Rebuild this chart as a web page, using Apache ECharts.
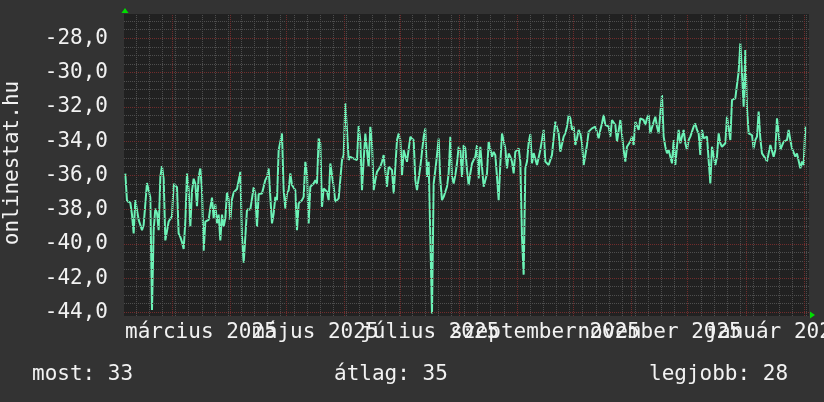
<!DOCTYPE html>
<html><head><meta charset="utf-8">
<script src="https://cdn.jsdelivr.net/npm/echarts@6/dist/echarts.min.js"></script>
<style>html,body{margin:0;padding:0;background:#333333;}#c{width:824px;height:402px;}</style>
</head><body><div id="c"></div>
<script>
// ---- data ----
const seg1 = [-35.9,-37.5,-37.5,-37.6,-38.3,-39.4,-37.45,-37.5,-38.6,-38.9,
-39.2,-38.9,-38.8,-36.45,-36.45,-37.3,-43.87,-39.2,-37.94,-38.2,
-39.2,-36.1,-35.46,-36.2,-39.8,-39.8,-38.7,-38.8,-38.4,-36.5,
-36.6,-36.7,-39.4,-39.6,-39.9,-40.3,-38.7,-35.9,-36.8,-39.0,
-36.9,-36.2,-36.5,-37.8,-36.1,-35.6,-36.9,-40.4,-38.7,-38.8,
-38.6,-37.9,-37.3,-38.5,-37.7,-38.8,-38.3,-39.8,-38.3,-39.0,
-38.5,-37.0,-37.4,-38.6,-37.4,-37.0,-36.9,-36.8,-36.3,-35.8,
-39.6,-41.1,-39.6,-38.0,-37.9,-38.0,-37.9,-36.7,-37.1,-39.0,
-37.1,-37.1];
const seg2 = [-37.06,-36.67,-36.28,-36.09,-35.6,-37.26,-38.81,-38.23,-37.26,-37.45,
-34.53,-34.43,-33.56,-36.87,-37.94,-37.06,-36.87,-35.89,-36.57,-36.67,
-36.87,-39.2,-37.64,-37.6,-37.45,-37.26,-35.21,-35.89,-38.81,-36.67,
-36.57,-36.48,-36.28,-36.48,-33.85,-34.14,-37.84,-36.77,-36.87,-36.96,
-37.45,-35.31,-35.31,-36.67,-37.55,-37.45,-37.35,-37.26,-35.11,-34.82,
-31.8,-33.36,-35.11,-34.92,-35.02,-35.02,-35.08,-35.11,-33.13,-33.95,
-36.87,-35.11,-33.56,-34.53,-35.5,-33.17,-34.14,-36.87,-36.28,-35.8,
-35.7,-35.5,-35.21,-34.82,-34.92,-36.67,-35.5,-35.5,-35.7,-37.06,
-37.16,-33.95,-33.56];
const seg3 = [-33.95,-35.99,-34.53,-34.43,-35.21,-35.21,-33.75,-33.85,-33.95,-36.28,
-36.87,-36.96,-35.5,-35.41,-33.75,-33.27,-36.09,-35.21,-35.11,-44.07,
-36.48,-35.7,-34.82,-33.85,-36.28,-37.45,-37.26,-36.96,-36.67,-35.89,
-33.75,-36.09,-36.48,-35.99,-35.31,-34.34,-34.53,-36.09,-34.24,-34.43,
-35.7,-36.57,-35.89,-35.31,-35.11,-34.92,-34.24,-36.18,-34.34,-34.34,
-36.67,-36.77,-35.89,-34.04,-33.95,-34.92,-34.63,-34.82,-36.09,-37.45,
-35.31,-33.56,-33.46,-34.43,-35.6,-34.73,-34.92,-35.21,-35.89,-34.63,
-34.53,-34.43,-35.21,-39.6,-41.8,-35.6,-35.2,-34.1,-33.6,-35.3,
-34.7,-34.8,-35.4];
const seg4 = [-35.4,-34.52,-33.94,-33.35,-35.2,-35.3,-35.4,-35.4,-34.81,-34.72,
-32.87,-32.87,-33.55,-34.62,-34.52,-33.74,-33.55,-33.16,-32.48,-32.67,
-33.35,-33.16,-34.23,-33.84,-33.35,-33.55,-34.13,-35.4,-35.5,-34.23,
-33.45,-33.45,-33.26,-33.16,-33.16,-33.06,-33.84,-33.35,-32.97,-32.48,
-33.06,-32.97,-33.16,-33.74,-32.77,-32.67,-33.06,-34.03,-34.13,-32.77,
-32.77,-34.52,-35.2,-34.33,-34.33,-34.03,-33.74,-34.23,-32.87,-32.77,
-33.35,-32.67,-32.67,-32.77,-33.06,-32.67,-32.48,-33.55,-33.65,-32.87,
-32.58,-33.16,-33.55,-32.38,-31.31,-33.74,-34.33,-34.72,-34.52,-34.43,
-35.3,-33.94,-35.4];
const seg5 = [-34.33,-33.35,-34.13,-34.03,-33.35,-34.13,-34.52,-33.94,-33.74,-33.45,
-33.16,-32.97,-33.35,-33.55,-34.81,-33.35,-33.84,-33.74,-33.74,-35.11,
-36.47,-34.33,-34.43,-35.4,-34.91,-33.55,-34.13,-34.33,-34.43,-34.13,
-32.58,-32.58,-33.94,-31.6,-31.6,-31.5,-31.41,-29.95,-28.29,-30.05,
-31.99,-28.68,-32.09,-33.55,-33.65,-33.65,-34.43,-33.94,-33.74,-32.28,
-33.84,-34.72,-34.72,-35.01,-35.2,-35.2,-34.23,-34.23,-34.91,-34.52,
-32.67,-33.55,-34.52,-34.52,-34.03,-34.03,-33.94,-33.35,-33.94,-34.43,
-34.52,-34.91,-34.72,-34.72,-35.59,-35.2,-35.4,-33.16];
const values = seg1.concat(seg2, seg3, seg4, seg5);

const firstSample = Date.UTC(2025, 1, 4, 5, 0);
const lastSample = Date.UTC(2026, 1, 1, 17, 0);
const axisStart = Date.UTC(2025, 1, 3, 12);
const axisEnd = Date.UTC(2026, 1, 3, 16);

const monthList = [[2025,2],[2025,3],[2025,4],[2025,5],[2025,6],[2025,7],[2025,8],[2025,9],[2025,10],[2025,11],[2026,0],[2026,1],[2026,2]];
const labelMonths = [[2025,2,'március 2025'],[2025,4,'május 2025'],[2025,6,'július 2025'],[2025,8,'szeptember 2025'],[2025,10,'november 2025'],[2026,0,'január 2026']];
const yTicks = [-44,-42,-40,-38,-36,-34,-32,-30,-28];
const statTexts = ['most: 33', 'átlag: 35', 'legjobb: 28'];
const yName = 'onlinestat.hu';

// ---- build ----
const DAY = 86400000;
const step = (lastSample - firstSample) / (values.length - 1);
const seriesData = values.map((v, i) => [firstSample + i * step, v]);

const monthStarts = monthList.map(([y, m]) => Date.UTC(y, m, 1));
const labelTimes = labelMonths.map(([y, m]) => (Date.UTC(y, m, 1) + Date.UTC(y, m + 1, 1)) / 2);
const labelTexts = labelMonths.map(l => l[2]);
const nearestLabel = (v) => { let best = 0; labelTimes.forEach((t, i) => { if (Math.abs(t - v) < Math.abs(labelTimes[best] - v)) best = i; }); return labelTexts[best]; };
const labelsA = labelTimes.filter((t, i) => i % 2 === 0);
const labelsB = labelTimes.filter((t, i) => i % 2 === 1);

const weekLines = [];
for (let t = Date.UTC(2025, 1, 10); t <= axisEnd; t += 7 * DAY) weekLines.push(t);
const minorY = [];
for (let v = -44; v <= -26.5; v += 0.5) if (!yTicks.includes(v)) minorY.push(v);

const FONT = 'DejaVu Sans Mono';
const GREY = '#4e4e4e', RED = '#702c2c';
const TXT = '#f2f2f2';

function xAxisWith(custom) {
  return {
    type: 'value', min: axisStart, max: axisEnd, position: 'bottom', offset: 0,
    axisLine: { show: false }, splitLine: { show: false }, axisTick: { show: false },
    axisLabel: { customValues: custom, interval: 0, margin: 6, color: TXT, fontFamily: FONT, fontSize: 21,
      hideOverlap: false, formatter: nearestLabel }
  };
}

const chart = echarts.init(document.getElementById('c'), null, { renderer: 'canvas' });
chart.setOption({
  animation: false,
  backgroundColor: '#333333',
  grid: { left: 124, right: 15, top: 14, bottom: 86, show: true, backgroundColor: '#212121', borderWidth: 0, containLabel: false, outerBoundsMode: 'none' },
  xAxis: [xAxisWith(labelsA), xAxisWith(labelsB)],
  yAxis: {
    type: 'value', min: -44.216, max: -26.581,
    axisLine: { show: false }, splitLine: { show: false }, axisTick: { show: false },
    axisLabel: { customValues: yTicks, interval: 0, margin: 16, color: TXT, fontFamily: FONT, fontSize: 21,
      formatter: (v) => v.toFixed(1).replace('.', ',') }
  },
  series: [
    { type: 'line', data: [], z: 1, silent: true,
      markLine: { silent: true, symbol: 'none', label: { show: false }, animation: false,
        lineStyle: { color: GREY, type: [1, 1], width: 1 },
        data: weekLines.map(t => ({ xAxis: t })).concat(minorY.map(v => ({ yAxis: v }))) } },
    { type: 'line', data: [], z: 1, silent: true,
      markLine: { silent: true, symbol: 'none', label: { show: false }, animation: false,
        lineStyle: { color: RED, type: [1, 1], width: 1 },
        data: monthStarts.map(t => ({ xAxis: t })).concat(yTicks.map(v => ({ yAxis: v }))) } },
    { type: 'line', data: seriesData, z: 3, showSymbol: false, symbol: 'none', clip: true,
      lineStyle: { color: '#6cf2b6', width: 2 }, itemStyle: { color: '#6cf2b6' } }
  ],
  graphic: [
    { type: 'text', x: 13, y: 163, rotation: Math.PI / 2,
      style: { text: yName, fontFamily: FONT, fontSize: 21, fill: TXT, align: 'center', verticalAlign: 'middle' } },
    { type: 'text', x: 32, y: 375, style: { text: statTexts[0], fontFamily: FONT, fontSize: 21, fill: TXT, verticalAlign: 'middle' } },
    { type: 'text', x: 334, y: 375, style: { text: statTexts[1], fontFamily: FONT, fontSize: 21, fill: TXT, verticalAlign: 'middle' } },
    { type: 'text', x: 649, y: 375, style: { text: statTexts[2], fontFamily: FONT, fontSize: 21, fill: TXT, verticalAlign: 'middle' } },
    { type: 'polygon', shape: { points: [[125, 8], [121.5, 13], [128.5, 13]] }, style: { fill: '#00dd00' } },
    { type: 'polygon', shape: { points: [[815, 315], [810, 311.5], [810, 318.5]] }, style: { fill: '#00dd00' } }
  ]
});
</script>
</body></html>
